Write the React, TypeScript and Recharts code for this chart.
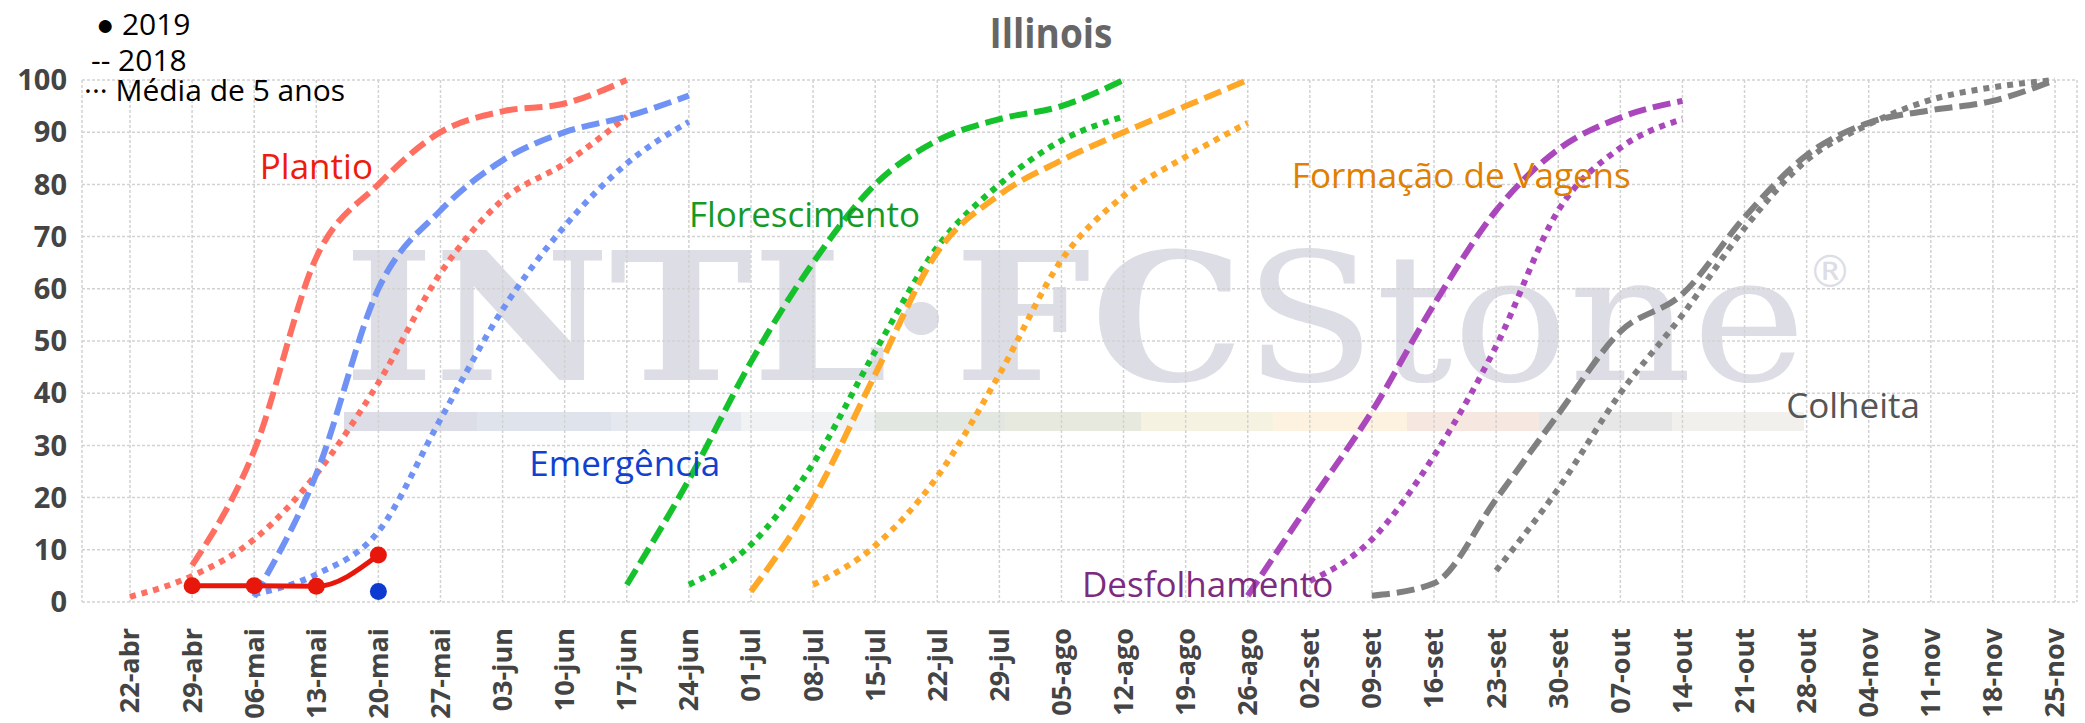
import React from 'react';
import { LineChart, Line, XAxis, YAxis, CartesianGrid, ReferenceDot } from 'recharts';

const FONT = "'Open Sans', 'Noto Sans', sans-serif";

const weeks = [
  '22-abr', '29-abr', '06-mai', '13-mai', '20-mai', '27-mai', '03-jun', '10-jun',
  '17-jun', '24-jun', '01-jul', '08-jul', '15-jul', '22-jul', '29-jul', '05-ago',
  '12-ago', '19-ago', '26-ago', '02-set', '09-set', '16-set', '23-set', '30-set',
  '07-out', '14-out', '21-out', '28-out', '04-nov', '11-nov', '18-nov', '25-nov',
];

const yTicks = [0, 10, 20, 30, 40, 50, 60, 70, 80, 90, 100];

// 2019 (weekly, starting at the given week)
const plantio2019 = [3.1, 3.1, 3, 9];          // from 29-abr
const emergencia2019 = [2];                      // 20-mai

// 2018
const plantio2018 = [7, 29, 66, 80, 90, 94, 95.5, 100];                          // 29-abr
const emergencia2018 = [1, 24.5, 60, 75, 84.6, 90, 93, 97];                      // 06-mai
const florescimento2018 = [3.3, 23.4, 46, 65, 80, 88.4, 92.5, 95, 100];          // 17-jun
const vagens2018 = [2, 19.7, 43.6, 67, 78, 84.6, 90, 95, 100];                   // 01-jul
const desfolha2018 = [1.2, 19, 36.5, 57, 75, 86.7, 92.8, 96];                    // 26-ago
const colheita2018 = [1.2, 3.6, 19.7, 36, 51.8, 59, 73.7, 85.6, 91.8, 94.2, 96, 100]; // 09-set

// media de 5 anos
const plantioMedia = [1, 5, 12, 24.5, 42, 63, 77, 84, 93];                       // 22-abr
const emergenciaMedia = [1.5, 5.3, 13.5, 35, 56, 72, 84, 92];                    // 06-mai
const florescimentoMedia = [3.3, 11, 26.5, 48, 68, 80, 88.4, 93];                // 24-jun
const vagensMedia = [3.3, 10.8, 24, 43.6, 65.5, 77.8, 85.3, 91.8];               // 08-jul
const desfolhaMedia = [4, 12, 28, 49, 75, 87, 92.5];                             // 02-set
const colheitaMedia = [6, 21.7, 40, 55, 71.6, 84.6, 91.5, 96.2, 98.6, 100];      // 23-set

type S = { key: string; start: string; values: number[]; color: string; kind: 'dash' | 'dot' | 'solid' | 'marker' };

const series: S[] = [
  { key: 'pM', start: '22-abr', values: plantioMedia, color: '#ff6f61', kind: 'dot' },
  { key: 'eM', start: '06-mai', values: emergenciaMedia, color: '#7092f5', kind: 'dot' },
  { key: 'fM', start: '24-jun', values: florescimentoMedia, color: '#16c22c', kind: 'dot' },
  { key: 'vM', start: '08-jul', values: vagensMedia, color: '#ffa726', kind: 'dot' },
  { key: 'dM', start: '02-set', values: desfolhaMedia, color: '#ab47bc', kind: 'dot' },
  { key: 'cM', start: '23-set', values: colheitaMedia, color: '#808080', kind: 'dot' },
  { key: 'p18', start: '29-abr', values: plantio2018, color: '#ff6f61', kind: 'dash' },
  { key: 'e18', start: '06-mai', values: emergencia2018, color: '#7092f5', kind: 'dash' },
  { key: 'f18', start: '17-jun', values: florescimento2018, color: '#16c22c', kind: 'dash' },
  { key: 'v18', start: '01-jul', values: vagens2018, color: '#ffa726', kind: 'dash' },
  { key: 'd18', start: '26-ago', values: desfolha2018, color: '#ab47bc', kind: 'dash' },
  { key: 'c18', start: '09-set', values: colheita2018, color: '#808080', kind: 'dash' },
  { key: 'p19', start: '29-abr', values: plantio2019, color: '#e8170c', kind: 'solid' },
  { key: 'e19', start: '20-mai', values: emergencia2019, color: '#0d3bd0', kind: 'marker' },
];

const data = weeks.map((w, i) => {
  const row: Record<string, number | string | null> = { i, week: w };
  series.forEach((s) => {
    const k = i - weeks.indexOf(s.start);
    row[s.key] = k >= 0 && k < s.values.length ? s.values[k] : null;
  });
  return row;
});

const labels = [
  { text: 'Plantio', x: 2.09, y: 81.1, color: '#ee1c0e' },
  { text: 'Emergência', x: 6.43, y: 24.1, color: '#1440d0' },
  { text: 'Florescimento', x: 9.0, y: 71.8, color: '#149a26' },
  { text: 'Formação de Vagens', x: 18.71, y: 79.4, color: '#e08000' },
  { text: 'Desfolhamento', x: 15.33, y: 1.0, color: '#7d2b7f' },
  { text: 'Colheita', x: 26.67, y: 35.2, color: '#555555' },
];

const strip = [
  ['#dcdde6', 344], ['#dfe4ec', 477], ['#e5e8ee', 611], ['#f0f2f4', 741], ['#e2e7e1', 875],
  ['#e7e9df', 1005], ['#f6f2e2', 1141], ['#fdf2df', 1273], ['#f7e7e1', 1407], ['#e7e7e7', 1539],
  ['#f1f0ec', 1672],
] as const;

const XTick = (props: any) => {
  const { x, y, payload } = props;
  return (
    <text
      x={x}
      y={y}
      transform={`rotate(-90, ${x}, ${y})`}
      textAnchor="end"
      dy="0.35em"
      fontSize={27}
      fontWeight={700}
      fontFamily={FONT}
      fill="#444"
    >
      {weeks[payload.value]}
    </text>
  );
};

export default function App() {
  return (
    <div style={{ position: 'absolute', left: 0, top: 0, width: 2085, height: 723, background: '#fff', overflow: 'hidden' }}>
      <svg width={2085} height={723} style={{ position: 'absolute', left: 0, top: 0 }}>
        <text x={344} y={380} textLength={1462} lengthAdjust="spacingAndGlyphs" fontSize={177} fontFamily="'DejaVu Serif', serif" fill="#dcdde5">
          <tspan fontWeight={700}>INTL·FC</tspan>
          <tspan>Stone</tspan>
        </text>
        <text x={1808} y={287} fontSize={44} fontFamily="'DejaVu Sans', sans-serif" fill="#dcdde5">®</text>
        {strip.map(([c, x0], k) => (
          <rect key={k} x={x0} y={412} width={k < strip.length - 1 ? strip[k + 1][1] - x0 : 132} height={19} fill={c} />
        ))}
      </svg>
      <div style={{ position: 'absolute', left: 0, top: 0 }}>
        <LineChart width={2085} height={723} data={data} margin={{ top: 80, right: 8, bottom: 0, left: 0 }}>
          <CartesianGrid stroke="#d2d2d2" strokeDasharray="3 2" strokeWidth={1.5} />
          <XAxis
            type="number"
            dataKey="i"
            domain={[-0.773, 31.354]}
            allowDataOverflow
            ticks={weeks.map((_, i) => i)}
            interval={0}
            tick={<XTick />}
            tickLine={false}
            axisLine={false}
            tickSize={0}
            tickMargin={26}
            height={121}
          />
          <YAxis
            type="number"
            domain={[0, 100]}
            ticks={yTicks}
            interval={0}
            tickLine={false}
            axisLine={false}
            tickSize={0}
            tickMargin={15}
            width={82}
            tick={{ fontSize: 29, fontWeight: 700, fill: '#444', fontFamily: FONT }}
          />
          {series.map((s) => (
            <Line
              key={s.key}
              dataKey={s.key}
              type="monotone"
              stroke={s.kind === 'marker' ? 'none' : s.color}
              strokeWidth={s.kind === 'solid' ? 5 : 6}
              strokeDasharray={s.kind === 'dash' ? '18 7' : s.kind === 'dot' ? '6 6' : undefined}
              dot={s.kind === 'solid' || s.kind === 'marker' ? { r: 8.5, fill: s.color, stroke: 'none' } : false}
              activeDot={false}
              connectNulls={false}
              isAnimationActive={false}
            />
          ))}
          {labels.map((l) => (
            <ReferenceDot
              key={l.text}
              x={l.x}
              y={l.y}
              r={0}
              ifOverflow="visible"
              shape={(p: any) => (
                <text x={p.cx} y={p.cy} fill={l.color} fontSize={35} fontFamily={FONT}>
                  {l.text}
                </text>
              )}
            />
          ))}
        </LineChart>
      </div>
      <svg width={2085} height={723} style={{ position: 'absolute', left: 0, top: 0, pointerEvents: 'none' }}>
        <text x={1051} y={48} textAnchor="middle" fontSize={42} fontWeight={700} fontFamily={FONT} fill="#666" textLength={123} lengthAdjust="spacingAndGlyphs">
          Illinois
        </text>
        <g fontSize={30} fontFamily={FONT} fill="#000">
          <text x={96} y={35}>● 2019</text>
          <text x={91} y={71}>-- 2018</text>
          <text x={84} y={101}>··· Média de 5 anos</text>
        </g>
      </svg>
    </div>
  );
}
